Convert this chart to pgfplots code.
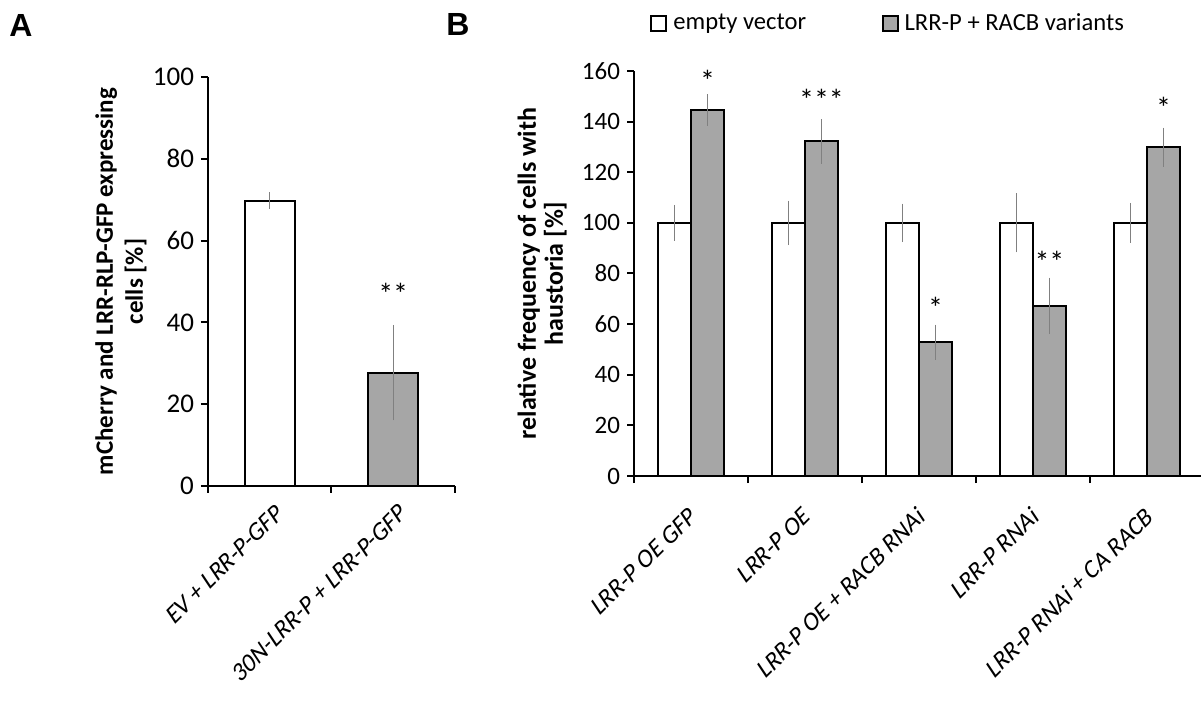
\documentclass[border=0pt]{standalone}
\usepackage{fontspec}
\setmainfont{Carlito}[ItalicFont=Carlito, ItalicFeatures={FakeSlant=0.2}]
\newfontfamily\letterfont{Liberation Sans}
\usepackage{pgfplots}
\pgfplotsset{compat=1.18}

\definecolor{bargrey}{HTML}{A6A6A6}
\definecolor{errgrey}{HTML}{808080}

\tikzset{sigstar/.style={font=\fontsize{15}{15}\selectfont}}

\pgfplotsset{
  panel/.style={
    scale only axis,
    axis lines=left,
    axis line style={-, line width=1pt},
    every tick/.style={black, line width=1pt},
    major tick length=3.5pt,
    tick align=outside,
    ymin=0, xmin=0,
    enlargelimits=false,
    clip=false,
    /pgf/number format/assume math mode=true,
    ybar,
    xticklabels={},
  },
  catlabels/.style 2 args={
    extra x tick style={major tick length=0pt,
      xticklabel style={xshift=#1, yshift=#2, rotate=45, anchor=north east, inner sep=1pt,
        font=\itshape\fontsize{12.5}{14}\selectfont}}},
  bars/.style={draw=black, line width=1pt,
    /pgfplots/error bars/y dir=both,
    /pgfplots/error bars/y explicit,
    /pgfplots/error bars/error bar style={errgrey, line width=0.6pt},
    /pgfplots/error bars/error mark options={errgrey, line width=0.6pt, mark size=2pt}},
}

\begin{document}
\begin{tikzpicture}
\useasboundingbox (0,0) rectangle (600.5pt,351pt);

% panel letters
\node[font=\letterfont\bfseries\fontsize{16}{16}\selectfont] at (10.5pt,338.5pt) {A};
\node[font=\letterfont\bfseries\fontsize{16}{16}\selectfont] at (229pt,339pt) {B};

% ---------------- panel A ----------------
\begin{axis}[panel, catlabels={1.5pt}{-7.5pt},
  at={(104pt,108pt)}, anchor=south west,
  width=123.5pt, height=204.5pt,
  xmax=2, ymax=100,
  xtick={0,1,2},
  extra x ticks={0.5,1.5},
  extra x tick labels={EV + \textit{LRR-P-GFP}, \textit{30N-LRR-P} + \textit{LRR-P-GFP}},
  ytick={0,20,...,100},
  yticklabel style={font=\fontsize{13.5}{13.5}\selectfont},
  bar width=25pt,
  ylabel={mCherry and LRR-RLP-GFP expressing\\cells [\%]},
  ylabel style={font=\bfseries\fontsize{12.5}{15}\selectfont, align=center, inner sep=0pt,
    at={(axis description cs:-0.247,0.5)}, anchor=south},
]
\addplot[bars, fill=white, bar shift=0pt] coordinates {(0.5,69.8) +- (0,1.0)};
\addplot[bars, fill=bargrey, bar shift=0pt] coordinates {(1.5,27.7) +- (0,10.7)};
\node[sigstar] at (axis cs:1.5,47) {**};
\end{axis}

% ---------------- panel B ----------------
\begin{axis}[panel, catlabels={-2.5pt}{-14pt},
  at={(317pt,113pt)}, anchor=south west,
  width=285pt, height=202.5pt,
  xmax=5, ymax=160,
  xtick={0,1,...,5},
  extra x ticks={0.5,1.5,2.5,3.5,4.5},
  extra x tick labels={LRR-P OE GFP, LRR-P OE, LRR-P OE + RACB RNAi, LRR-P RNAi, LRR-P RNAi + CA RACB},
  ytick={0,20,...,160},
  yticklabel style={font=\fontsize{12.5}{12.5}\selectfont},
  bar width=16.5pt,
  ylabel={relative frequency of cells with\\haustoria [\%]},
  ylabel style={font=\bfseries\fontsize{13}{13.5}\selectfont, align=center, inner sep=0pt,
    at={(axis description cs:-0.1175,0.5)}, anchor=south},
  legend columns=2,
  legend image code/.code={\draw[#1, line width=1pt] (0pt,-3.75pt) rectangle (7.5pt,3.75pt);},
  legend style={at={(0.028,1.117)}, anchor=west, draw=none, fill=none, inner sep=0pt,
    font=\fontsize{12.3}{14}\selectfont,
    nodes={inner sep=0pt},
    /tikz/every odd column/.append style={column sep=3pt},
    /tikz/every even column/.append style={column sep=37.8pt}},
]
\addplot[bars, fill=white, bar shift=-8.25pt] coordinates {
  (0.5,100) +- (0,5.5)
  (1.5,100) +- (0,7.2)
  (2.5,100) +- (0,6.0)
  (3.5,100) +- (0,10.1)
  (4.5,100) +- (0,6.3)
};
\addlegendentry{empty vector}
\addplot[bars, fill=bargrey, bar shift=8.25pt] coordinates {
  (0.5,144.6) +- (0,4.6)
  (1.5,132.2) +- (0,7.2)
  (2.5,52.9) +- (0,5.3)
  (3.5,67.2) +- (0,9.6)
  (4.5,129.9) +- (0,6.1)
};
\addlegendentry{LRR-P + RACB variants}
\node[sigstar, xshift=8.25pt] at (axis cs:0.5,156) {*};
\node[sigstar, xshift=8.25pt] at (axis cs:1.5,148.5) {***};
\node[sigstar, xshift=8.25pt] at (axis cs:2.5,66.5) {*};
\node[sigstar, xshift=8.25pt] at (axis cs:3.5,84.5) {**};
\node[sigstar, xshift=8.25pt] at (axis cs:4.5,145.5) {*};
\end{axis}
\end{tikzpicture}
\end{document}
